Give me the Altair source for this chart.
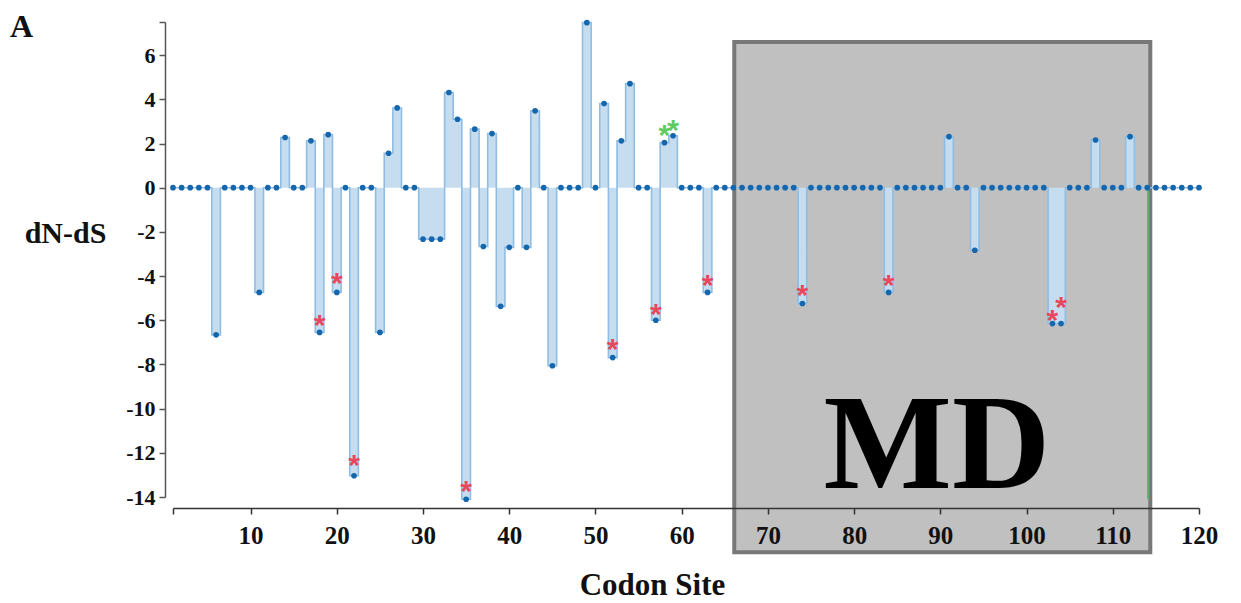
import altair as alt
import pandas as pd

# ---- data ----
sites = list(range(1, 121))
dnds = [
    0, 0, 0, 0, 0,            # 1-5
    -6.66,                    # 6
    0, 0, 0, 0,               # 7-10
    -4.74,                    # 11
    0, 0,                     # 12-13
    2.27,                     # 14
    0, 0,                     # 15-16
    2.12, -6.55, 2.40, -4.74, # 17-20
    0,                        # 21
    -13.04,                   # 22
    0, 0,                     # 23-24
    -6.55, 1.56, 3.61,        # 25-27
    0, 0,                     # 28-29
    -2.33, -2.33, -2.33,      # 30-32
    4.31, 3.10, -14.10, 2.65, -2.66, 2.45, -5.37, -2.70,  # 33-40
    0,                        # 41
    -2.70, 3.48,              # 42-43
    0,                        # 44
    -8.06,                    # 45
    0, 0, 0,                  # 46-48
    7.47,                     # 49
    0,                        # 50
    3.81, -7.69, 2.12, 4.71,  # 51-54
    0, 0,                     # 55-56
    -6.00, 2.04, 2.35,        # 57-59
    0, 0, 0,                  # 60-62
    -4.74,                    # 63
    0, 0, 0, 0, 0, 0, 0, 0, 0, 0,  # 64-73
    -5.24,                    # 74
    0, 0, 0, 0, 0, 0, 0, 0, 0,     # 75-83
    -4.74,                    # 84
    0, 0, 0, 0, 0, 0,         # 85-90
    2.31,                     # 91
    0, 0,                     # 92-93
    -2.83,                    # 94
    0, 0, 0, 0, 0, 0, 0, 0,   # 95-102
    -6.15, -6.15,             # 103-104
    0, 0, 0,                  # 105-107
    2.16,                     # 108
    0, 0, 0,                  # 109-111
    2.31,                     # 112
    0, 0, 0, 0, 0, 0, 0, 0,   # 113-120
]
assert len(dnds) == len(sites)

red_star_sites = [18, 20, 22, 35, 52, 57, 63, 74, 84, 103, 104]
red_star_y = [-6.07, -4.17, -12.41, -13.57, -7.16, -5.57, -4.29, -4.74, -4.29, -5.83, -5.27]
green_star_sites = [58, 59]
green_star_y = [2.50, 2.77]

md_box = {"x": [66.1], "x2": [114.35], "y": [6.6], "y2": [-16.5]}
md_label = {"x": [89.6], "y": [-13.6], "text": ["MD"]}
md_edge = {"x": [114.1], "y": [0.0], "y2": [-14.1]}

x_ticks = [1, 10, 20, 30, 40, 50, 60, 70, 80, 90, 100, 110, 120]
y_ticks = [-14, -12, -10, -8, -6, -4, -2, 0, 2, 4, 6, 7.5]

SERIF = "Liberation Serif"

df = pd.DataFrame({"site": sites, "val": dnds})
red = pd.DataFrame({"site": red_star_sites, "y": red_star_y})
green = pd.DataFrame({"site": green_star_sites, "y": green_star_y})

xs = alt.Scale(domain=[1, 120], nice=False, zero=False)
ys = alt.Scale(domain=[-14, 7.5], nice=False, zero=False)

x_axis = alt.Axis(
    values=x_ticks, labelExpr="datum.value < 5 ? '' : toString(datum.value)",
    offset=11, tickSize=6, labelPadding=9, labelFont=SERIF, labelFontWeight="bold",
    labelFontSize=25, labelColor="#111", domainColor="#333", tickColor="#333",
    domainWidth=1.5, tickWidth=1.5, grid=False, zindex=1,
    title="Codon Site", titleFont=SERIF, titleFontWeight="bold", titleFontSize=31,
    titleColor="#111", titleAlign="center", titleBaseline="alphabetic",
    titleX=479, titleY=86, labelFlush=False,
)
y_axis = alt.Axis(
    values=y_ticks, labelExpr="datum.value > 7 ? '' : toString(datum.value)",
    offset=8, tickSize=6, labelPadding=4, labelFont=SERIF, labelFontWeight="bold",
    labelFontSize=22, labelColor="#111", domainColor="#555", tickColor="#555",
    domainWidth=1.5, tickWidth=1.5, grid=False,
    title="dN-dS", titleFont=SERIF, titleFontWeight="bold", titleFontSize=30,
    titleColor="#111", titleAngle=0, titleAlign="center", titleBaseline="alphabetic",
    titleX=-100, titleY=220,
)

box = alt.Chart(pd.DataFrame(md_box)).mark_rect(
    fill="#c0c0c0", stroke="#787878", strokeWidth=4, clip=False
).encode(
    x=alt.X("x:Q", scale=xs, axis=x_axis),
    x2="x2:Q",
    y=alt.Y("y:Q", scale=ys, axis=y_axis),
    y2="y2:Q",
)

area = alt.Chart(df).mark_area(
    interpolate="step", color="#c6ddef", opacity=1
).encode(
    x=alt.X("site:Q", scale=xs),
    y=alt.Y("val:Q", scale=ys),
    y2=alt.datum(0),
)

outline = alt.Chart(df).mark_line(
    interpolate="step", color="#8fbde3", strokeWidth=1.6
).encode(
    x=alt.X("site:Q", scale=xs),
    y=alt.Y("val:Q", scale=ys),
)

edge = alt.Chart(pd.DataFrame(md_edge)).mark_rule(color="#5fae6a", strokeWidth=2).encode(
    x=alt.X("x:Q", scale=xs), y=alt.Y("y:Q", scale=ys), y2="y2:Q"
)

dots = alt.Chart(df).mark_circle(color="#1466ad", size=32, opacity=1).encode(
    x=alt.X("site:Q", scale=xs),
    y=alt.Y("val:Q", scale=ys),
)

red_stars = alt.Chart(red).mark_text(
    text="*", color="#e8475c", font="Liberation Sans", fontWeight="bold",
    fontSize=30, baseline="alphabetic", dy=13
).encode(x=alt.X("site:Q", scale=xs), y=alt.Y("y:Q", scale=ys))

green_stars = alt.Chart(green).mark_text(
    text="*", color="#5ccb63", font="Liberation Sans", fontWeight="bold",
    fontSize=30, baseline="alphabetic", dy=13
).encode(x=alt.X("site:Q", scale=xs), y=alt.Y("y:Q", scale=ys))

md_text = alt.Chart(pd.DataFrame(md_label)).mark_text(
    font=SERIF, fontWeight="bold", fontSize=136, color="#000",
    align="center", baseline="alphabetic"
).encode(x=alt.X("x:Q", scale=xs), y=alt.Y("y:Q", scale=ys), text="text:N")

panel_label = alt.Chart(pd.DataFrame({"t": ["A"]})).mark_text(
    font=SERIF, fontWeight="bold", fontSize=32, color="#111",
    align="left", baseline="alphabetic"
).encode(x=alt.value(-163), y=alt.value(15), text="t:N")

chart = alt.layer(
    box, area, outline, edge, dots, red_stars, green_stars, md_text, panel_label
).properties(
    width=1026, height=475,
    autosize=alt.AutoSizeParams(type="none"),
    padding={"left": 173, "top": 22, "right": 42, "bottom": 106},
    background="white",
).configure_view(strokeWidth=0)

chart.save("out.html", embed_options={"renderer": "svg", "actions": False})
